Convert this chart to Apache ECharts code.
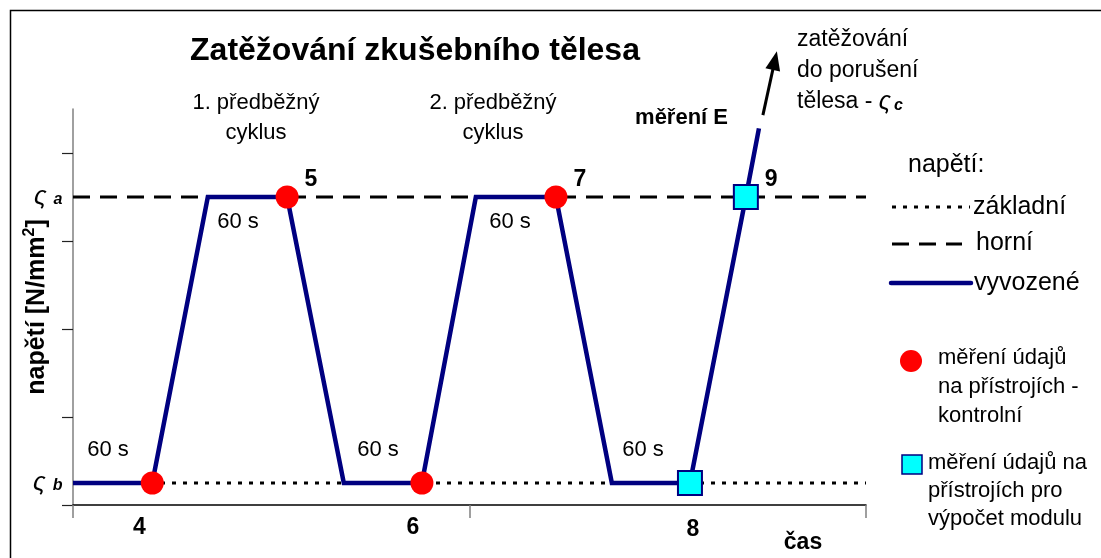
<!DOCTYPE html>
<html>
<head>
<meta charset="utf-8">
<script src="https://cdn.jsdelivr.net/npm/echarts@6/dist/echarts.min.js"></script>
<style>
  html, body { margin: 0; padding: 0; background: #fff; }
  #chart { width: 1101px; height: 558px; }
</style>
</head>
<body>
<div id="chart"></div>
<script>
// průběh zatěžování (čas v libovolných jednotkách, napětí v jednotkách osy)
const timeX = [0, 2.0, 3.4, 5.4, 6.83, 8.8, 10.16, 12.18, 13.59, 15.56, 16.97, 17.3];
const stressY = [0.25, 0.25, 3.5, 3.5, 0.25, 0.25, 3.5, 3.5, 0.25, 0.25, 3.5, 4.28];
const levelB = 0.25;   // základní napětí
const levelA = 3.5;    // horní napětí
const timeMax = 20;
const stressMax = 4.5;

// body měření
const controlPts = [[2.0, 0.25, '4'], [5.4, 3.5, '5'], [8.8, 0.25, '6'], [12.18, 3.5, '7']];
const modulusPts = [[15.56, 0.25, '8'], [16.97, 3.5, '9']];
const arrowPath = [[17.40, 4.43], [17.70, 5.05]];

const xTicks = [0, 10, 20];
const yTicks = [0, 1, 2, 3, 4];

const FONT = 'Liberation Sans, Arial, sans-serif';
const NAVY = '#000080';

// posun popisků pod osou
const bottomShift = { '4': -13, '6': -9, '8': 3 };

function pointItem(p) {
  let top = p[1] > 1;
  return {
    value: [p[0], p[1]],
    name: p[2],
    label: top
      ? { show: true, position: 'right', distance: 6, offset: [0, -17] }
      : { show: true, position: 'bottom', distance: 22, offset: [bottomShift[p[2]] || 0, 0] }
  };
}

const pointLabel = {
  formatter: '{b}',
  color: '#000',
  fontFamily: FONT,
  fontWeight: 'bold',
  fontSize: 23
};

const sigmaRich = {
  s: { fontFamily: FONT, fontStyle: 'italic', fontSize: 26, color: '#000' },
  i: { fontFamily: FONT, fontStyle: 'italic', fontWeight: 'bold', fontSize: 16, color: '#000', padding: [6, 0, 0, 7] }
};

function levelLabel(sub) {
  return {
    show: true,
    position: 'left',
    distance: 10,
    formatter: function (p) { return p.dataIndex === 0 ? '{s|ς}{i|' + sub + '}' : ''; },
    rich: sigmaRich
  };
}

var chart = echarts.init(document.getElementById('chart'));

var option = {
  backgroundColor: '#fff',
  animation: false,
  grid: { left: 73, right: 235, top: 109, bottom: 53, containLabel: false },
  xAxis: {
    type: 'value',
    min: 0,
    max: timeMax,
    interval: 10,
    splitLine: { show: false },
    axisLine: { show: true, onZero: false, lineStyle: { color: '#000', width: 1.5 } },
    axisTick: { show: true, customValues: xTicks, length: 13, inside: false, lineStyle: { color: '#808080', width: 1.5 } },
    axisLabel: { show: false }
  },
  yAxis: {
    type: 'value',
    min: 0,
    max: stressMax,
    interval: 1,
    name: '{n|napětí [N/mm}{sup|2}{n|]}',
    nameLocation: 'middle',
    nameRotate: 90,
    nameGap: 21,
    nameTextStyle: {
      fontFamily: FONT, fontWeight: 'bold', fontSize: 25, color: '#000',
      rich: {
        n: { fontFamily: FONT, fontWeight: 'bold', fontSize: 25, lineHeight: 30, color: '#000' },
        sup: { fontFamily: FONT, fontWeight: 'bold', fontSize: 16, color: '#000', verticalAlign: 'top', lineHeight: 30, padding: [0, 0, 12, 0] }
      }
    },
    splitLine: { show: false },
    axisLine: { show: true, lineStyle: { color: '#808080', width: 1.5 } },
    axisTick: { show: true, customValues: yTicks, length: 11, lineStyle: { color: '#222', width: 1.2 } },
    axisLabel: { show: false }
  },
  series: [
    {
      name: 'základní',
      type: 'line',
      data: [[0, levelB], [timeMax, levelB]],
      symbol: 'circle',
      symbolSize: 1,
      showSymbol: true,
      itemStyle: { color: 'rgba(0,0,0,0)' },
      lineStyle: { color: '#000', width: 3, type: [4, 7] },
      label: levelLabel('b'),
      z: 2
    },
    {
      name: 'horní',
      type: 'line',
      data: [[0, levelA], [timeMax, levelA]],
      symbol: 'circle',
      symbolSize: 1,
      showSymbol: true,
      itemStyle: { color: 'rgba(0,0,0,0)' },
      lineStyle: { color: '#000', width: 3, type: [17, 10] },
      label: levelLabel('a'),
      z: 2
    },
    {
      name: 'vyvozené',
      type: 'line',
      data: timeX.map(function (t, i) { return [t, stressY[i]]; }),
      symbol: 'none',
      lineStyle: { color: NAVY, width: 4.5, join: 'miter' },
      z: 3
    },
    {
      name: 'šipka',
      type: 'line',
      clip: false,
      data: [
        { value: arrowPath[0], symbol: 'none' },
        { value: arrowPath[1], symbol: 'triangle', symbolSize: [15, 19], symbolRotate: -12.5 }
      ],
      showSymbol: true,
      lineStyle: { color: '#000', width: 3 },
      itemStyle: { color: '#000' },
      z: 3
    },
    {
      name: 'kontrolní',
      type: 'scatter',
      data: controlPts.map(pointItem),
      symbol: 'circle',
      symbolSize: 23,
      itemStyle: { color: '#ff0000', opacity: 1 },
      label: pointLabel,
      z: 4
    },
    {
      name: 'modul',
      type: 'scatter',
      data: modulusPts.map(pointItem),
      symbol: 'rect',
      symbolSize: 24,
      itemStyle: { color: '#00ffff', borderColor: NAVY, borderWidth: 2, opacity: 1 },
      label: pointLabel,
      z: 4
    }
  ],
  graphic: [
    // rámeček
    { type: 'rect', shape: { x: 10.5, y: 10.5, width: 1200, height: 700 }, style: { fill: 'none', stroke: '#000', lineWidth: 1.5 }, silent: true },
    // nadpis
    { type: 'text', x: 415, y: 51, style: { text: 'Zatěžování zkušebního tělesa', fontFamily: FONT, fontWeight: 'bold', fontSize: 32, fill: '#000', align: 'center', verticalAlign: 'middle' } },
    { type: 'text', x: 256, y: 118, style: { text: '1. předběžný\ncyklus', fontFamily: FONT, fontSize: 22, lineHeight: 30, fill: '#000', align: 'center', verticalAlign: 'middle' } },
    { type: 'text', x: 493, y: 118, style: { text: '2. předběžný\ncyklus', fontFamily: FONT, fontSize: 22, lineHeight: 30, fill: '#000', align: 'center', verticalAlign: 'middle' } },
    { type: 'text', x: 728, y: 118, style: { text: 'měření E', fontFamily: FONT, fontWeight: 'bold', fontSize: 22, fill: '#000', align: 'right', verticalAlign: 'middle' } },
    {
      type: 'text', x: 797, y: 71,
      style: {
        text: '{n|zatěžování}\n{n|do porušení}\n{n|tělesa - }{s|ς}{c|c}',
        fontFamily: FONT, fill: '#000', align: 'left', verticalAlign: 'middle',
        rich: {
          n: { fontFamily: FONT, fontSize: 23, lineHeight: 31 },
          s: { fontFamily: FONT, fontStyle: 'italic', fontSize: 25, lineHeight: 31 },
          c: { fontFamily: FONT, fontStyle: 'italic', fontWeight: 'bold', fontSize: 16, lineHeight: 31, padding: [8, 0, 0, 3] }
        }
      }
    },
    // doby výdrže
    { type: 'text', x: 238, y: 222, style: { text: '60 s', fontFamily: FONT, fontSize: 22, fill: '#000', align: 'center', verticalAlign: 'middle' } },
    { type: 'text', x: 510, y: 222, style: { text: '60 s', fontFamily: FONT, fontSize: 22, fill: '#000', align: 'center', verticalAlign: 'middle' } },
    { type: 'text', x: 108, y: 450, style: { text: '60 s', fontFamily: FONT, fontSize: 22, fill: '#000', align: 'center', verticalAlign: 'middle' } },
    { type: 'text', x: 378, y: 450, style: { text: '60 s', fontFamily: FONT, fontSize: 22, fill: '#000', align: 'center', verticalAlign: 'middle' } },
    { type: 'text', x: 643, y: 450, style: { text: '60 s', fontFamily: FONT, fontSize: 22, fill: '#000', align: 'center', verticalAlign: 'middle' } },
    { type: 'text', x: 803, y: 543, style: { text: 'čas', fontFamily: FONT, fontWeight: 'bold', fontSize: 23, fill: '#000', align: 'center', verticalAlign: 'middle' } },
    // legenda
    { type: 'text', x: 908, y: 165, style: { text: 'napětí:', fontFamily: FONT, fontSize: 25, fill: '#000', align: 'left', verticalAlign: 'middle' } },
    { type: 'line', shape: { x1: 892, y1: 207, x2: 970, y2: 207 }, style: { stroke: '#000', lineWidth: 3, lineDash: [4, 7] } },
    { type: 'text', x: 973, y: 207, style: { text: 'základní', fontFamily: FONT, fontSize: 25, fill: '#000', align: 'left', verticalAlign: 'middle' } },
    { type: 'line', shape: { x1: 892, y1: 244, x2: 962, y2: 244 }, style: { stroke: '#000', lineWidth: 3, lineDash: [17, 10] } },
    { type: 'text', x: 976, y: 243, style: { text: 'horní', fontFamily: FONT, fontSize: 25, fill: '#000', align: 'left', verticalAlign: 'middle' } },
    { type: 'line', shape: { x1: 891, y1: 283, x2: 971, y2: 283 }, style: { stroke: NAVY, lineWidth: 4.5, lineCap: 'round' } },
    { type: 'text', x: 974, y: 283, style: { text: 'vyvozené', fontFamily: FONT, fontSize: 25, fill: '#000', align: 'left', verticalAlign: 'middle' } },
    { type: 'circle', shape: { cx: 911, cy: 361, r: 11 }, style: { fill: '#ff0000' } },
    { type: 'text', x: 938, y: 387, style: { text: 'měření údajů\nna přístrojích -\nkontrolní', fontFamily: FONT, fontSize: 22, lineHeight: 29, fill: '#000', align: 'left', verticalAlign: 'middle' } },
    { type: 'rect', shape: { x: 902, y: 455, width: 20, height: 19 }, style: { fill: '#00ffff', stroke: NAVY, lineWidth: 1.5 } },
    { type: 'text', x: 928, y: 491, style: { text: 'měření údajů na\npřístrojích pro\nvýpočet modulu', fontFamily: FONT, fontSize: 22, lineHeight: 28, fill: '#000', align: 'left', verticalAlign: 'middle' } }
  ]
};

chart.setOption(option);
</script>
</body>
</html>
